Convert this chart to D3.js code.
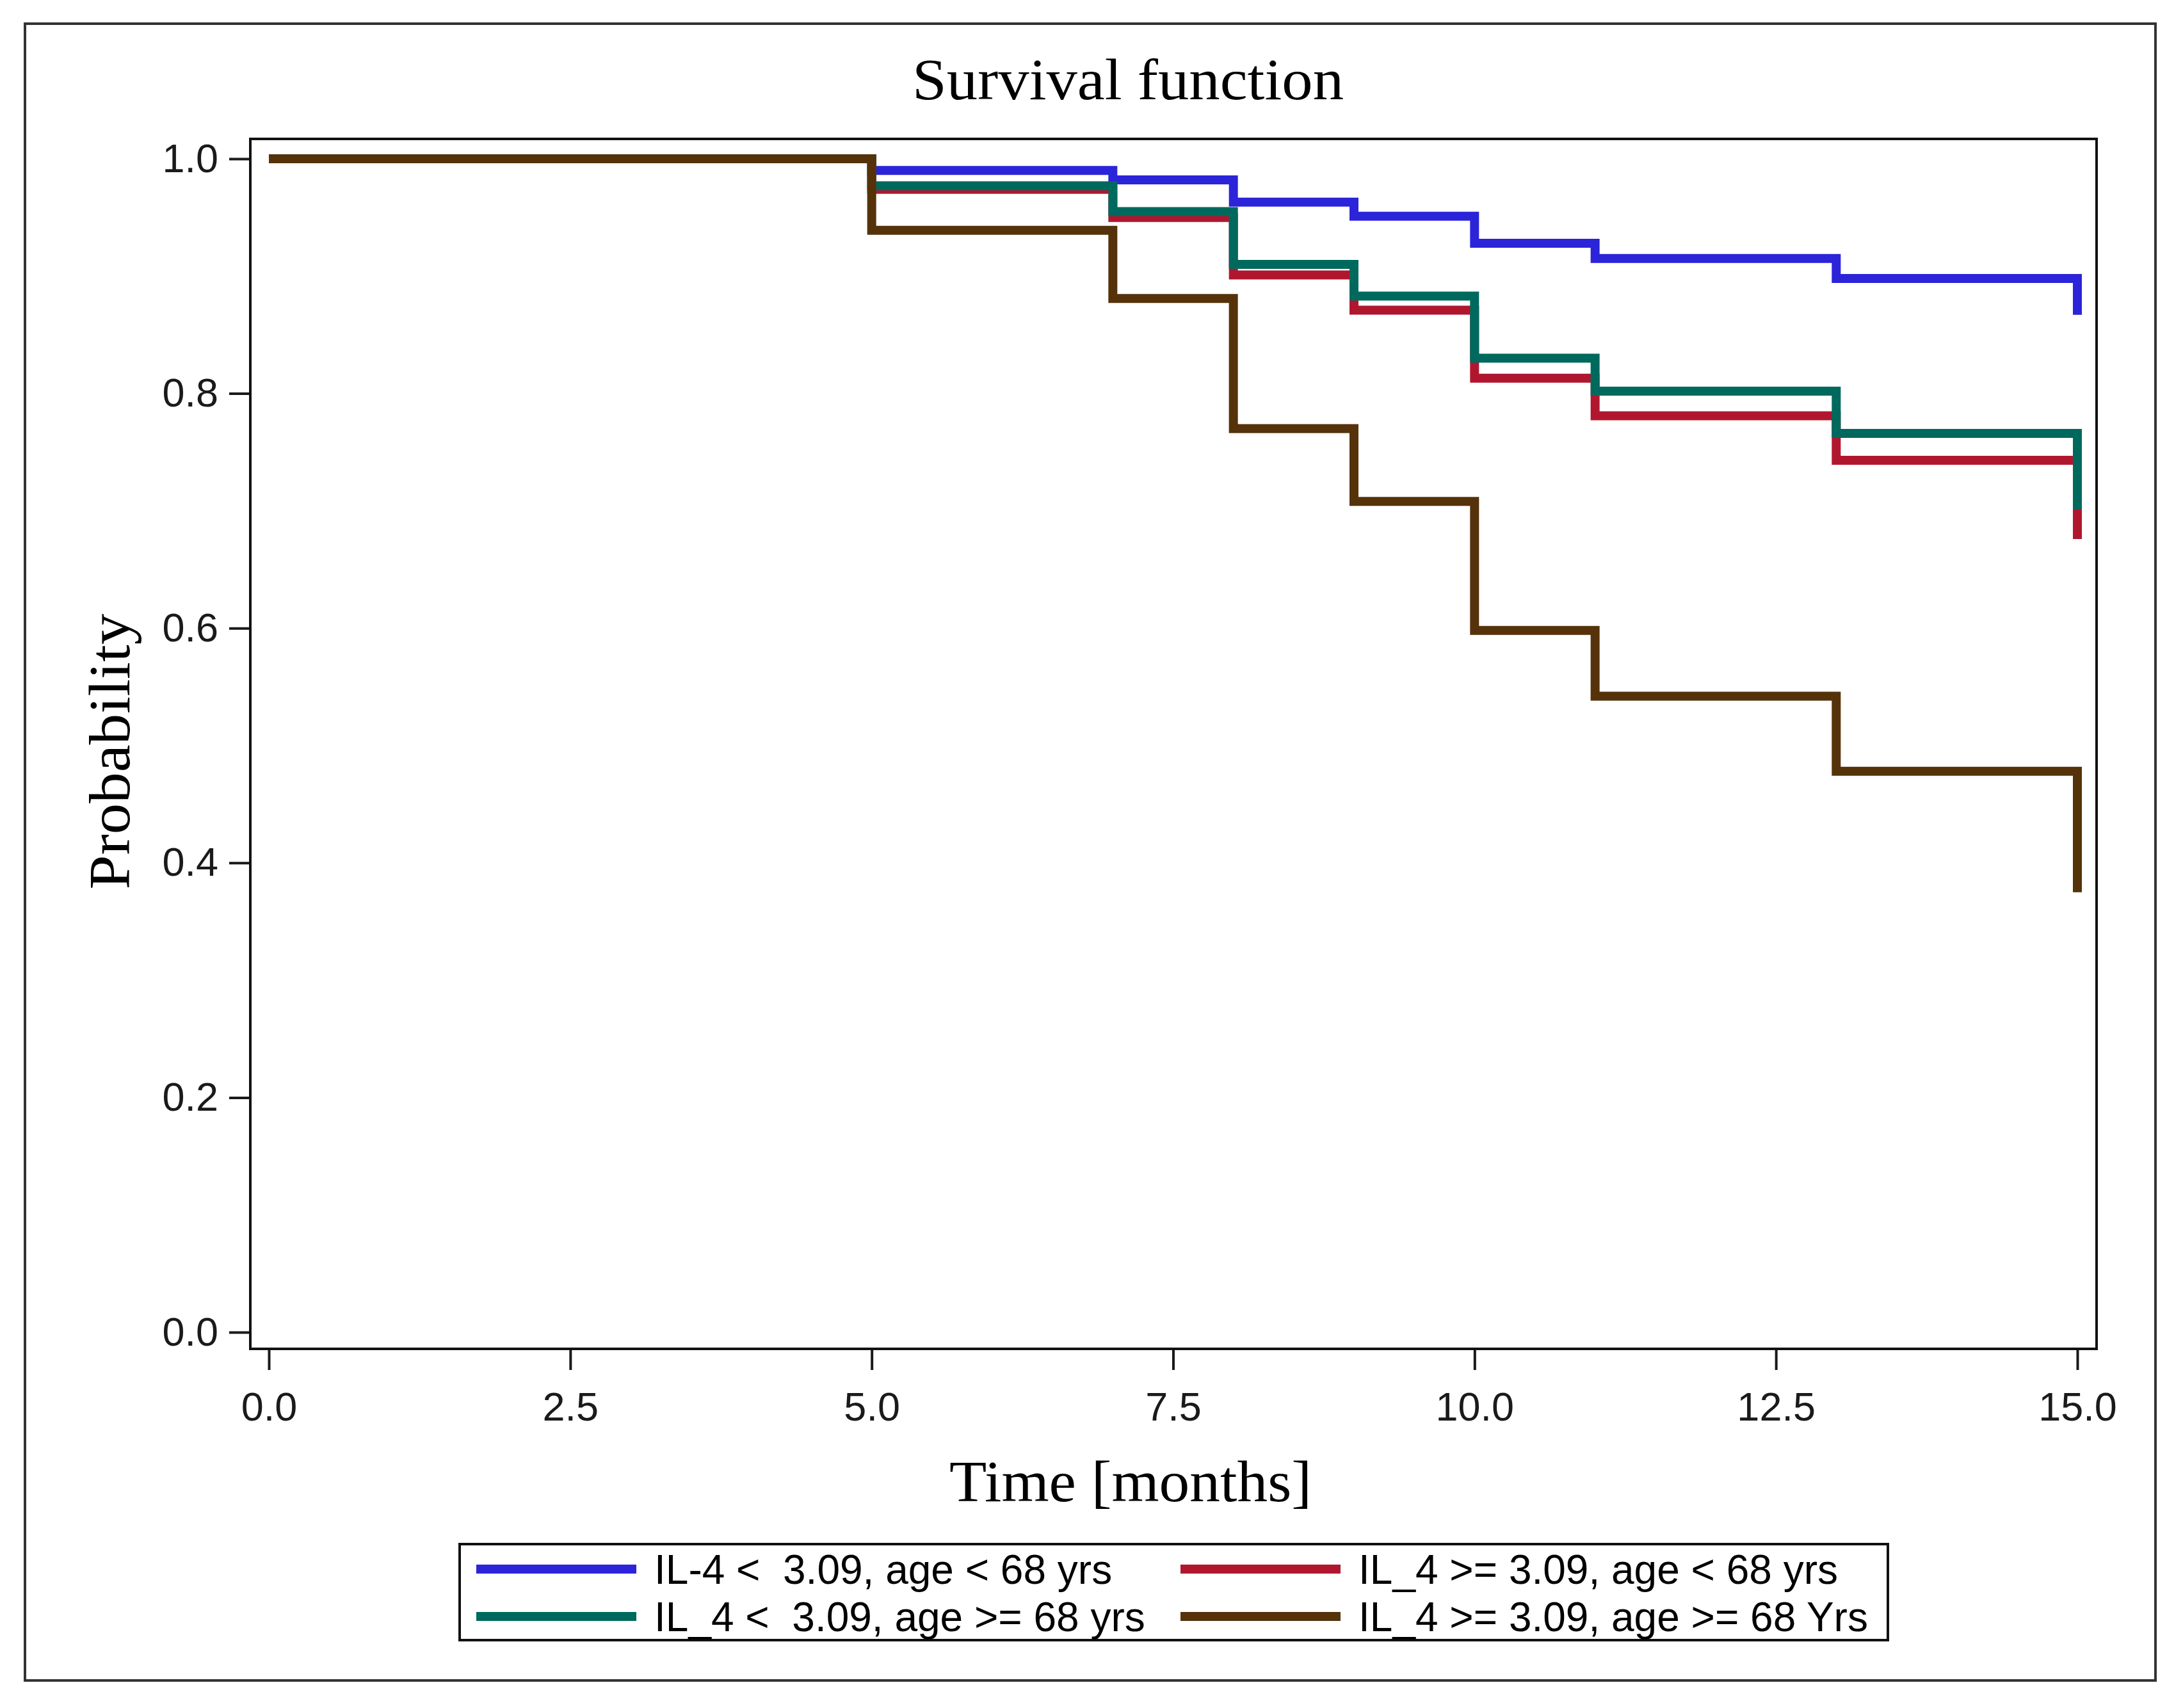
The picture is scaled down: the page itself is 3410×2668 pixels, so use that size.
<!DOCTYPE html>
<html>
<head>
<meta charset="utf-8">
<script src="https://cdn.jsdelivr.net/npm/d3@7"></script>
<style>
  html, body { margin: 0; padding: 0; background: #fff; }
  svg { display: block; }
  .axis text { font-family: "Liberation Sans", Arial, sans-serif; font-size: 63px; fill: #1a1a1a; }
  .axis line { stroke: #1a1a1a; stroke-width: 4; }
  .serif { font-family: "Liberation Serif", "Times New Roman", serif; fill: #000; }
  .legend text { font-family: "Liberation Sans", Arial, sans-serif; font-size: 64px; fill: #000; white-space: pre; }
</style>
</head>
<body>
<div id="chart"></div>
<script>
// event times (months) shared by all four groups
const times = [0, 5, 7, 8, 9, 10, 11, 13, 15];

// survival probabilities
const survBlue  = [1.0, 0.990, 0.982, 0.963, 0.951, 0.928, 0.915, 0.898, 0.867];
const survRed   = [1.0, 0.974, 0.950, 0.901, 0.871, 0.813, 0.781, 0.743, 0.676];
const survGreen = [1.0, 0.977, 0.955, 0.910, 0.883, 0.830, 0.802, 0.766, 0.701];
const survBrown = [1.0, 0.939, 0.881, 0.770, 0.708, 0.598, 0.542, 0.478, 0.375];

const seriesLabels = [
  'IL-4 <  3.09, age < 68 yrs',
  'IL_4 >= 3.09, age < 68 yrs',
  'IL_4 <  3.09, age >= 68 yrs',
  'IL_4 >= 3.09, age >= 68 Yrs'
];
const seriesColors = ['#2c24d8', '#b0172f', '#00695e', '#55320a'];

const xTicks = [0, 2.5, 5, 7.5, 10, 12.5, 15];
const yTicks = [0, 0.2, 0.4, 0.6, 0.8, 1.0];

const W = 3410, H = 2668;
const frame = { left: 391, right: 3275, top: 217, bottom: 2107 };

const svg = d3.select('#chart').append('svg')
  .attr('xmlns', 'http://www.w3.org/2000/svg')
  .attr('width', W)
  .attr('height', H);

// outer border
svg.append('rect')
  .attr('x', 39).attr('y', 37)
  .attr('width', 3367 - 39).attr('height', 2625 - 37)
  .attr('fill', 'none').attr('stroke', '#333').attr('stroke-width', 4);

const xScale = d3.scaleLinear().domain([0, 15]).range([420, 3245]);
const yScale = d3.scaleLinear().domain([0, 1]).range([2081, 248]);

// axes
svg.append('g')
  .attr('class', 'axis x')
  .attr('transform', 'translate(0,' + frame.bottom + ')')
  .call(d3.axisBottom(xScale).tickValues(xTicks).tickFormat(d3.format('.1f'))
    .tickSize(33).tickPadding(34))
  .call(g => g.select('.domain').remove());

svg.append('g')
  .attr('class', 'axis y')
  .attr('transform', 'translate(' + frame.left + ',0)')
  .call(d3.axisLeft(yScale).tickValues(yTicks).tickFormat(d3.format('.1f'))
    .tickSize(33).tickPadding(17))
  .call(g => g.select('.domain').remove());

// survival curves
const data = [survBlue, survRed, survGreen, survBrown].map((s, i) => ({
  label: seriesLabels[i],
  color: seriesColors[i],
  values: times.map((t, j) => ({ time: t, value: s[j] }))
}));

const line = d3.line()
  .curve(d3.curveStepAfter)
  .x(d => xScale(d.time))
  .y(d => yScale(d.value));

svg.append('g').selectAll('path')
  .data(data)
  .enter()
  .append('path')
  .attr('d', d => line(d.values))
  .attr('fill', 'none')
  .attr('stroke', d => d.color)
  .attr('stroke-width', 14);

// plot frame
svg.append('rect')
  .attr('x', frame.left).attr('y', frame.top)
  .attr('width', frame.right - frame.left).attr('height', frame.bottom - frame.top)
  .attr('fill', 'none').attr('stroke', '#111').attr('stroke-width', 4);

// titles
svg.append('text').attr('class', 'serif')
  .attr('x', 1762).attr('y', 155)
  .attr('text-anchor', 'middle').attr('font-size', 92)
  .attr('textLength', 674).attr('lengthAdjust', 'spacingAndGlyphs')
  .text('Survival function');

svg.append('text').attr('class', 'serif')
  .attr('x', 1766).attr('y', 2345)
  .attr('text-anchor', 'middle').attr('font-size', 92)
  .attr('textLength', 566).attr('lengthAdjust', 'spacingAndGlyphs')
  .text('Time [months]');

svg.append('text').attr('class', 'serif')
  .attr('transform', 'translate(202,1174) rotate(-90)')
  .attr('text-anchor', 'middle').attr('font-size', 92)
  .attr('textLength', 431).attr('lengthAdjust', 'spacingAndGlyphs')
  .text('Probability');

// legend
const legend = svg.append('g').attr('class', 'legend');
legend.append('rect')
  .attr('x', 718).attr('y', 2412)
  .attr('width', 2949 - 718).attr('height', 2562 - 2412)
  .attr('fill', '#fff').attr('stroke', '#111').attr('stroke-width', 4);

const legendPos = [
  { x: 744, y: 2451 }, { x: 1844, y: 2451 },
  { x: 744, y: 2525 }, { x: 1844, y: 2525 }
];
const items = legend.selectAll('g.item')
  .data(data)
  .enter()
  .append('g')
  .attr('class', 'item')
  .attr('transform', (d, i) => 'translate(' + legendPos[i].x + ',' + legendPos[i].y + ')');
items.append('line')
  .attr('x1', 0).attr('x2', 250)
  .attr('stroke', d => d.color).attr('stroke-width', 14);
items.append('text')
  .attr('x', 278).attr('dy', '0.36em')
  .text(d => d.label);
</script>
</body>
</html>
